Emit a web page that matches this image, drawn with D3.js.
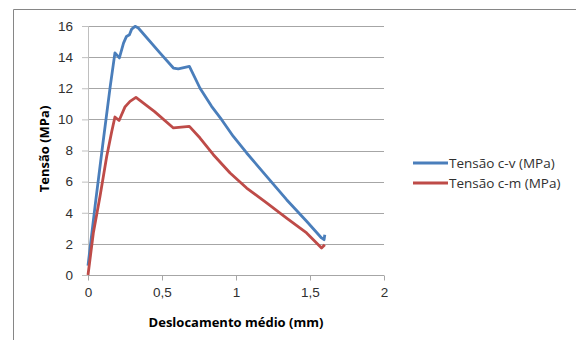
<!DOCTYPE html>
<html>
<head>
<meta charset="utf-8">
<script src="https://cdn.jsdelivr.net/npm/d3@7.9.0/dist/d3.min.js"></script>
<style>
  body { margin: 0; background: #fff; }
  svg { display: block; font-family: "Open Sans", "Liberation Sans", sans-serif; }
</style>
</head>
<body>
<svg width="576" height="340"></svg>
<script>
// displacement (mm) / stress (MPa)
const cvX = [0, 0.05, 0.1, 0.15, 0.182, 0.212, 0.24, 0.26, 0.28, 0.295, 0.318, 0.34, 0.486, 0.577, 0.61, 0.685, 0.757, 0.835, 0.903, 0.982, 1.072, 1.207, 1.342, 1.477, 1.578, 1.595, 1.6];
const cvY = [0.6, 4.6, 8.4, 12.1, 14.27, 13.95, 14.9, 15.33, 15.44, 15.8, 15.98, 15.87, 14.27, 13.3, 13.24, 13.4, 12.0, 10.84, 9.98, 8.9, 7.84, 6.34, 4.84, 3.45, 2.38, 2.27, 2.59];
const cmX = [0, 0.036, 0.081, 0.126, 0.16, 0.182, 0.21, 0.25, 0.284, 0.324, 0.45, 0.577, 0.685, 0.757, 0.847, 0.96, 1.072, 1.207, 1.342, 1.477, 1.578, 1.6];
const cmY = [0, 2.7, 5.05, 7.6, 9.2, 10.15, 9.93, 10.8, 11.16, 11.41, 10.5, 9.45, 9.55, 8.8, 7.73, 6.55, 5.59, 4.63, 3.66, 2.7, 1.74, 1.95];
const seriesNames = ['Tensão c-v (MPa)', 'Tensão c-m (MPa)'];
const colors = ['#4a7ebb', '#be4b48'];
const xTicks = [0, 0.5, 1, 1.5, 2];
const yTicks = [0, 2, 4, 6, 8, 10, 12, 14, 16];

const svg = d3.select('svg');

// outer frame
svg.append('path')
  .attr('d', 'M13.5,340 V9.5 H576')
  .attr('fill', 'none')
  .attr('stroke', '#868686')
  .attr('stroke-width', 1);

const x = d3.scaleLinear().domain([0, 2]).range([88, 384]);
const y = d3.scaleLinear().domain([0, 16]).range([275, 26]);

// horizontal gridlines
svg.append('g')
  .selectAll('line')
  .data(yTicks)
  .join('line')
  .attr('x1', x(0))
  .attr('x2', x(2))
  .attr('y1', (d) => Math.round(y(d)) + 0.5)
  .attr('y2', (d) => Math.round(y(d)) + 0.5)
  .attr('stroke', '#a6a6a6');

// y axis line + labels
svg.append('line')
  .attr('x1', x(0) + 0.5).attr('x2', x(0) + 0.5)
  .attr('y1', y(16)).attr('y2', y(0))
  .attr('stroke', '#bfbfbf');

const yAxis = svg.append('g')
  .attr('transform', `translate(${x(0)},0)`)
  .call(d3.axisLeft(y).tickValues(yTicks).tickSize(6).tickFormat(d3.format('d')));
yAxis.select('.domain').remove();
yAxis.selectAll('.tick line').attr('stroke', '#bfbfbf');
yAxis.selectAll('text').attr('font-size', 13.5).attr('fill', '#303030').attr('x', -15)
  .style('font-family', 'inherit');

// x axis
const fmtX = (d) => String(d).replace('.', ',');
const xAxis = svg.append('g')
  .attr('transform', `translate(0,${Math.round(y(0)) + 0.5})`)
  .call(d3.axisBottom(x).tickValues(xTicks).tickSize(5).tickFormat(fmtX));
xAxis.select('.domain').attr('stroke', '#a6a6a6').attr('d', `M${x(0)},0H${x(2)}`);
xAxis.selectAll('.tick line').attr('stroke', '#a6a6a6');
xAxis.selectAll('text').attr('font-size', 13.5).attr('fill', '#303030').attr('y', 12)
  .style('font-family', 'inherit');

// lines
const series = [
  cvX.map((d, i) => [d, cvY[i]]),
  cmX.map((d, i) => [d, cmY[i]]),
];
const line = d3.line().x((d) => x(d[0])).y((d) => y(d[1]));
series.forEach((pts, i) => {
  svg.append('path')
    .datum(pts)
    .attr('d', line)
    .attr('fill', 'none')
    .attr('stroke', colors[i])
    .attr('stroke-width', 2.8)
    .attr('stroke-linejoin', 'round');
});

// axis titles
svg.append('text')
  .attr('x', 236).attr('y', 327)
  .attr('text-anchor', 'middle')
  .attr('font-size', 13).attr('font-weight', 'bold').attr('fill', '#000')
  .text('Deslocamento médio (mm)');

svg.append('text')
  .attr('transform', 'translate(49,149) rotate(-90)')
  .attr('text-anchor', 'middle')
  .attr('font-size', 13).attr('font-weight', 'bold').attr('fill', '#000')
  .text('Tensão (MPa)');

// legend
seriesNames.forEach((name, i) => {
  const ly = 163 + i * 20;
  svg.append('line')
    .attr('x1', 413).attr('x2', 448)
    .attr('y1', ly).attr('y2', ly)
    .attr('stroke', colors[i]).attr('stroke-width', 2.8);
  svg.append('text')
    .attr('x', 449).attr('y', ly + 5)
    .attr('font-size', 13.5).attr('fill', '#303030')
    .text(name);
});
</script>
</body>
</html>
